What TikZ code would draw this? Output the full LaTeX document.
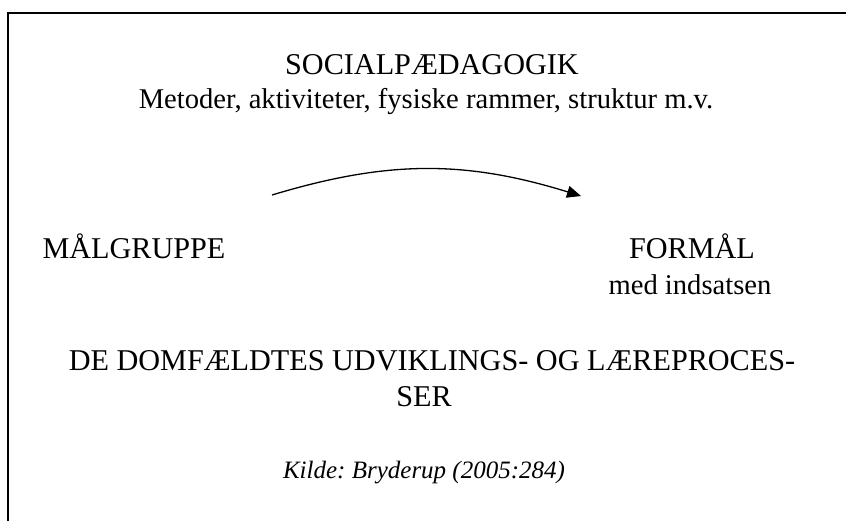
\documentclass[tikz,border=0pt]{standalone}
\usepackage{fontspec}
\setmainfont{Liberation Serif}
\usetikzlibrary{arrows.meta}
\frenchspacing
\tikzset{
  lbl/.style={inner sep=0pt, anchor=base, font=\fontsize{28.6}{34}\selectfont, align=center},
  caps/.style={lbl, font=\fontsize{30.2}{36}\selectfont},
  flow/.style={line width=1.3pt, -{Triangle[length=14pt,width=12pt]}},
}
\begin{document}
\begin{tikzpicture}[x=1pt,y=-1pt]
\useasboundingbox (0,0) rectangle (846,520);
\draw[line width=1.5pt] (8,13) rectangle (880,560);
\node[caps] (soc) at (432,74) {SOCIALPÆDAGOGIK};
\node[lbl] (met) at (426,108) {Metoder, aktiviteter, fysiske rammer, struktur m.v.};
\node[caps] (mal) at (134,258) {MÅLGRUPPE};
\node[caps] (form) at (692,258) {FORMÅL};
\node[lbl] (med) at (690,294) {med indsatsen};
\node[caps] (de) at (432,370) {DE DOMFÆLDTES UDVIKLINGS- OG LÆREPROCES-};
\node[caps] (ser) at (424,406) {SER};
\node[lbl, font=\fontsize{25}{30}\selectfont\itshape] (kil) at (424,478) {Kilde: Bryderup (2005:284)};
\coordinate (as) at (272,195);
\coordinate (ae) at (581,196);
\draw[flow] (as) to[bend left=17] (ae);
\end{tikzpicture}
\end{document}
